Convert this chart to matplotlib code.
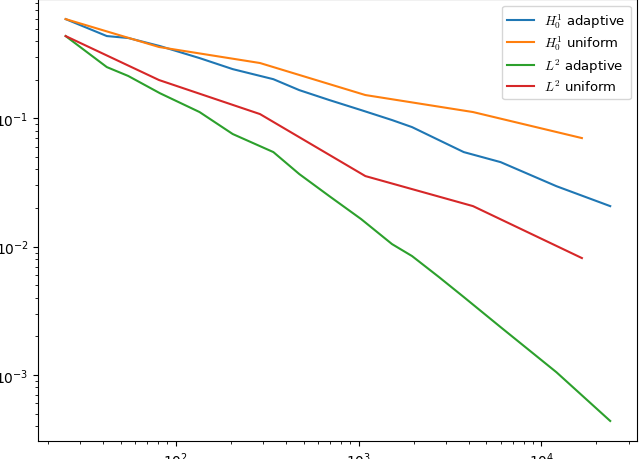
import numpy as np
import matplotlib
matplotlib.use("Agg")
import matplotlib.pyplot as plt

plt.rcParams['mathtext.fontset'] = 'cm'

# degrees of freedom
n_adaptive = [25, 42, 55, 82, 135, 205, 342, 474, 691, 1033, 1524, 1960,
              2750, 3760, 5980, 12080, 23770]
n_uniform = [25, 81, 289, 1089, 4225, 16641]

# errors
h1_adaptive = [0.594, 0.438, 0.423, 0.366, 0.295, 0.242, 0.202, 0.166, 0.139,
               0.116, 0.097, 0.0855, 0.0677, 0.0546, 0.0456, 0.0296, 0.0207]
h1_uniform = [0.594, 0.360, 0.270, 0.152, 0.112, 0.0702]
l2_adaptive = [0.438, 0.251, 0.214, 0.157, 0.112, 0.0755, 0.0546, 0.0368,
               0.0248, 0.0164, 0.01047, 0.00845, 0.00580, 0.00405, 0.00236,
               0.00105, 0.000438]
l2_uniform = [0.438, 0.199, 0.108, 0.0355, 0.0207, 0.00815]

fig = plt.figure(figsize=(6.4, 4.6), dpi=100)
ax = fig.add_axes([0.06, 0.039, 0.936, 0.961])

ax.loglog(n_adaptive, h1_adaptive, label=r'$H^1_0$ adaptive')
ax.loglog(n_uniform, h1_uniform, label=r'$H^1_0$ uniform')
ax.loglog(n_adaptive, l2_adaptive, label=r'$L^2$ adaptive')
ax.loglog(n_uniform, l2_uniform, label=r'$L^2$ uniform')

ax.legend(loc='upper right', fontsize=9.5, labelspacing=0.3)

fig.savefig('out.png', dpi=100)
